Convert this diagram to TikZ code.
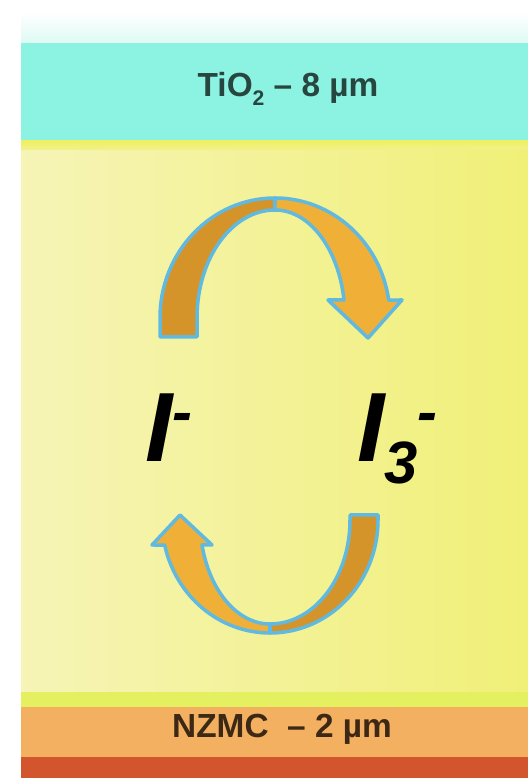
\documentclass[tikz,border=0pt]{standalone}
\usepackage{fontspec}
\setmainfont{Liberation Sans}

\definecolor{tiocyan}{RGB}{140,242,225}
\definecolor{tiofade}{RGB}{222,250,244}
\definecolor{elyteL}{RGB}{246,244,182}
\definecolor{elyteR}{RGB}{240,240,120}
\definecolor{rimyellow}{RGB}{238,240,100}
\definecolor{rimgreen}{RGB}{228,240,95}
\definecolor{nzmcorange}{RGB}{242,176,96}
\definecolor{basered}{RGB}{210,85,45}
\definecolor{arrowdark}{RGB}{212,148,42}
\definecolor{arrowlight}{RGB}{240,175,55}
\definecolor{arrowrim}{RGB}{95,185,225}
\definecolor{tiotext}{RGB}{40,70,64}
\definecolor{nzmctext}{RGB}{60,40,20}

\begin{document}
\begin{tikzpicture}[
  x=0.2mm, y=0.2mm,
  darkhalf/.style={fill=arrowdark, draw=arrowrim, line width=0.7mm, line join=round},
  lighthalf/.style={fill=arrowlight, draw=arrowrim, line width=0.7mm, line join=round},
  ion/.style={anchor=base west, inner sep=0pt, font=\fontsize{56}{60}\selectfont\bfseries\itshape},
  layerlabel/.style={anchor=base, inner sep=0pt, font=\fontsize{19}{22}\selectfont\bfseries}
]
  \useasboundingbox (0,0) rectangle (528,778);
  \fill[white] (0,0) rectangle (528,778);

  % Layers, top to bottom
  \shade[top color=white, bottom color=tiofade] (21,766) rectangle (528,735);
  \fill[tiocyan] (21,735) rectangle (528,637);
  \shade[top color=rimyellow, bottom color=elyteR!60!elyteL] (21,637) rectangle (528,627);
  \shade[left color=elyteL, right color=elyteR] (21,627) rectangle (528,86);
  \fill[rimgreen] (21,86) rectangle (528,71);
  \fill[nzmcorange] (21,71) rectangle (528,21);
  \fill[basered] (21,21) rectangle (528,0);

  % Layer labels
  \node[layerlabel, text=tiotext] (tio) at (288,681)
    {TiO\raisebox{-0.25em}{\fontsize{12}{12}\selectfont 2} -- 8 µm};
  \node[layerlabel, text=nzmctext] (nzmc) at (282,40) {NZMC\ \ -- 2 µm};

  % Ions
  \node[ion] (iodide) at (145,316)
    {I\raisebox{17pt}{\fontsize{34}{34}\selectfont -}};
  \node[ion] (triiodide) at (357,316)
    {I\raisebox{-12pt}{\fontsize{34}{34}\selectfont 3}\raisebox{17pt}{\fontsize{34}{34}\selectfont -}};

  % Upper arrow: I- to I3-
  \filldraw[darkhalf] (160,441) -- (160,460)
    arc[start angle=180, end angle=90, x radius=115, y radius=120] -- (275,568)
    arc[start angle=90, end angle=180, x radius=78, y radius=108] -- (197,441) -- cycle;
  \filldraw[lighthalf] (275,580)
    arc[start angle=90, end angle=8.6, x radius=115, y radius=120]
    -- (402,478) -- (368,440) -- (328,478) -- (344,478)
    arc[start angle=9.6, end angle=90, x radius=70, y radius=108] -- cycle;

  % Lower arrow: I3- to I-
  \filldraw[darkhalf] (378,263) -- (378,258)
    arc[start angle=0, end angle=-90, x radius=108, y radius=113] -- (270,154)
    arc[start angle=-90, end angle=0, x radius=80, y radius=104] -- (350,263) -- cycle;
  \filldraw[lighthalf] (270,145)
    arc[start angle=-90, end angle=-167.2, x radius=108, y radius=113]
    -- (152,233) -- (180,263) -- (212,233) -- (202,233)
    arc[start angle=-166.1, end angle=-90, x radius=70, y radius=104] -- cycle;
\end{tikzpicture}
\end{document}
